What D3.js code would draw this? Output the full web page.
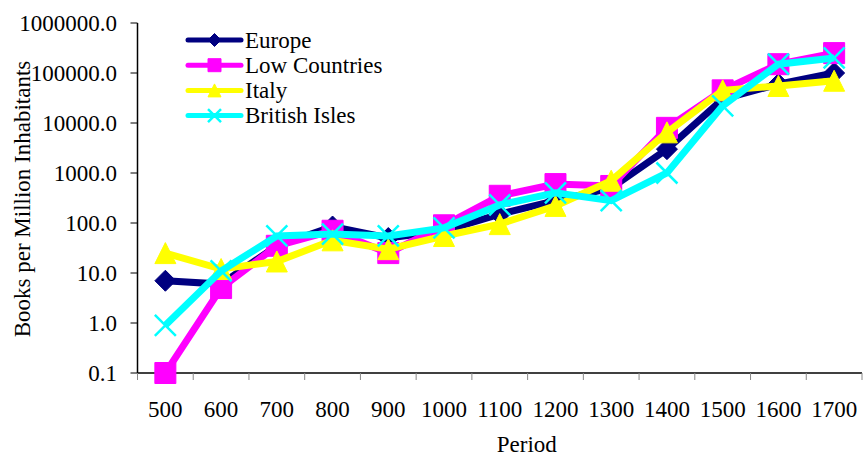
<!DOCTYPE html>
<html>
<head>
<meta charset="utf-8">
<script src="https://cdn.jsdelivr.net/npm/d3@7"></script>
<style>
  body { margin: 0; background: #fff; }
</style>
</head>
<body>
<svg id="chart" width="863" height="457" font-family="'Liberation Serif', 'DejaVu Serif', serif"></svg>
<script>
const periods = ["500", "600", "700", "800", "900", "1000", "1100", "1200", "1300", "1400", "1500", "1600", "1700"];
const europe = [7, 6, 35, 85, 50, 70, 150, 280, 500, 3000, 30000, 60000, 100000];
const lowCountries = [0.1, 5, 35, 70, 25, 90, 350, 600, 550, 8000, 45000, 150000, 250000];
const italy = [25, 12, 17, 45, 30, 55, 95, 220, 700, 6500, 45000, 55000, 70000];
const britishIsles = [0.9, 11, 55, 60, 55, 80, 230, 400, 280, 1000, 22000, 150000, 200000];
const yTicks = [0.1, 1, 10, 100, 1000, 10000, 100000, 1000000];

const series = [
    { name: "Europe", values: europe, color: "#000080", marker: "diamond" },
    { name: "Low Countries", values: lowCountries, color: "#FF00FF", marker: "square" },
    { name: "Italy", values: italy, color: "#FFFF00", marker: "triangle" },
    { name: "British Isles", values: britishIsles, color: "#00FFFF", marker: "cross" }
];

// setting
const plotLeft = 137.5, plotRight = 862, plotTop = 23, plotBottom = 373;
const fontFamily = "'Liberation Serif', 'Times New Roman', serif";
const svg = d3.select("#chart");

const x = d3.scaleBand().domain(periods).range([plotLeft, plotRight]).padding(0);
const y = d3.scaleLog().domain([0.1, 1000000]).range([plotBottom, plotTop]);

// Marker paths, centered at 0,0
function markerPath(type, s) {
    const h = s / 2;
    if (type === "diamond") return `M0,${-h}L${h},0L0,${h}L${-h},0Z`;
    if (type === "square") return `M${-h},${-h}H${h}V${h}H${-h}Z`;
    if (type === "triangle") return `M0,${-h}L${h},${h}L${-h},${h}Z`;
    return `M${-h},${-h}L${h},${h}M${-h},${h}L${h},${-h}`;
}

function drawMarker(g, type, color, size) {
    const p = g.append("path").attr("d", markerPath(type, size));
    if (type === "cross") {
        p.attr("fill", "none").attr("stroke", color).attr("stroke-width", 2.5);
    } else {
        p.attr("fill", color).attr("stroke", color).attr("stroke-width", 1);
    }
}

///* Axes *///
// y axis
const yAxis = svg.append("g");
yAxis.append("line")
    .attr("x1", plotLeft).attr("x2", plotLeft)
    .attr("y1", plotTop).attr("y2", plotBottom)
    .attr("stroke", "#000").attr("stroke-width", 1.5);
yAxis.selectAll(".ytick")
    .data(yTicks)
    .enter().append("line")
    .attr("class", "ytick")
    .attr("x1", plotLeft - 7).attr("x2", plotLeft)
    .attr("y1", d => y(d)).attr("y2", d => y(d))
    .attr("stroke", "#000").attr("stroke-width", 1);
yAxis.selectAll(".ylabel")
    .data(yTicks)
    .enter().append("text")
    .attr("class", "ylabel")
    .attr("x", 117)
    .attr("y", d => y(d))
    .attr("dy", "0.34em")
    .style("font-family", fontFamily)
    .style("text-anchor", "end")
    .style("font-size", "23px")
    .text(d => d3.format(".1f")(d));

// x axis
const xAxis = svg.append("g");
xAxis.append("line")
    .attr("x1", plotLeft).attr("x2", plotRight)
    .attr("y1", plotBottom).attr("y2", plotBottom)
    .attr("stroke", "#000").attr("stroke-width", 1.5);
xAxis.selectAll(".xtick")
    .data(periods.concat(["end"]))
    .enter().append("line")
    .attr("class", "xtick")
    .attr("x1", (d, i) => plotLeft + i * x.bandwidth())
    .attr("x2", (d, i) => plotLeft + i * x.bandwidth())
    .attr("y1", plotBottom).attr("y2", plotBottom + 7)
    .attr("stroke", "#888").attr("stroke-width", 1);
xAxis.selectAll(".xlabel")
    .data(periods)
    .enter().append("text")
    .attr("class", "xlabel")
    .attr("x", d => x(d) + x.bandwidth() / 2)
    .attr("y", 417)
    .style("font-family", fontFamily)
    .style("text-anchor", "middle")
    .style("font-size", "23px")
    .text(d => d);

// axis titles
svg.append("text")
    .attr("x", (plotLeft + plotRight) / 2 + 27)
    .attr("y", 452)
    .style("font-family", fontFamily)
    .style("text-anchor", "middle")
    .style("font-size", "23px")
    .text("Period");

svg.append("text")
    .attr("transform", "translate(30, 199) rotate(-90)")
    .style("font-family", fontFamily)
    .style("text-anchor", "middle")
    .style("font-size", "23px")
    .text("Books per Million Inhabitants");

///* Series *///
const line = d3.line()
    .x((d, i) => x(periods[i]) + x.bandwidth() / 2)
    .y(d => y(d));

series.forEach(s => {
    const g = svg.append("g");
    g.append("path")
        .attr("d", line(s.values))
        .attr("fill", "none")
        .attr("stroke", s.color)
        .attr("stroke-width", 7)
        .attr("stroke-linejoin", "miter");
    s.values.forEach((v, i) => {
        const m = g.append("g")
            .attr("transform", `translate(${x(periods[i]) + x.bandwidth() / 2}, ${y(v)})`);
        drawMarker(m, s.marker, s.color, 21);
    });
});

///* Legend *///
const legend = svg.append("g").attr("transform", "translate(188, 40)");
series.forEach((s, i) => {
    const row = legend.append("g").attr("transform", `translate(0, ${i * 25.2})`);
    row.append("line")
        .attr("x1", 0).attr("x2", 53)
        .attr("y1", 0).attr("y2", 0)
        .attr("stroke", s.color)
        .attr("stroke-width", 5)
        .attr("stroke-linecap", "round");
    const m = row.append("g").attr("transform", "translate(26.5, 0)");
    drawMarker(m, s.marker, s.color, 13);
    row.append("text")
        .attr("x", 57)
        .attr("y", 0)
        .attr("dy", "0.34em")
        .style("font-family", fontFamily)
        .style("font-size", "23px")
        .text(s.name);
});
</script>
</body>
</html>
